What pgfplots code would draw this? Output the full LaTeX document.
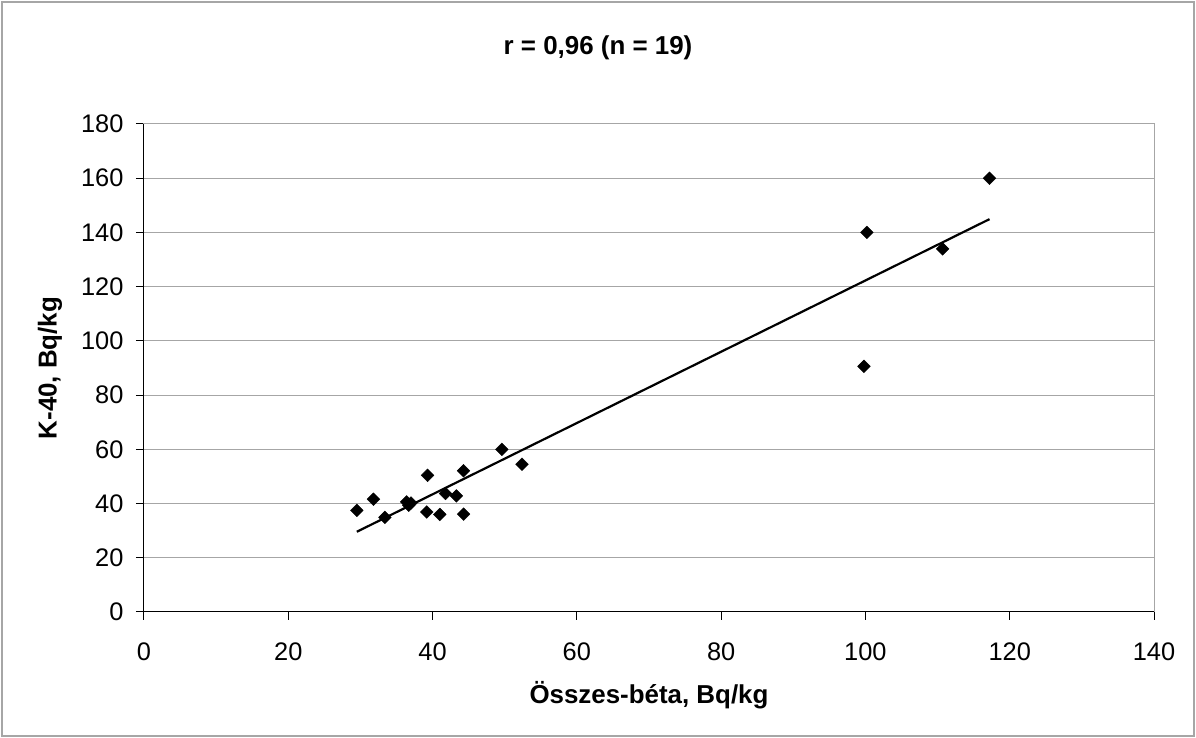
\documentclass[border=0pt]{standalone}
\usepackage{fontspec}
\setmainfont{Liberation Sans}
\usepackage{pgfplots}
\pgfplotsset{compat=1.18}

\begin{document}
\begin{tikzpicture}[x=1bp,y=1bp]
% outer chart frame (1196 x 738), plot area lower-left at (144,126)
\draw[gray!70,line width=1.2bp] (-142,-124) rectangle (1050,610);
\useasboundingbox (-144,-126) rectangle (1052,612);
\begin{axis}[
  scale only axis, width=1010bp, height=488bp,
  xmin=0, xmax=140, ymin=0, ymax=180,
  xtick={0,20,...,140}, ytick={0,20,...,180},
  axis line style={gray!70,line width=1bp},
  tick style={black,line width=1bp}, major tick length=8bp,
  tick align=outside, xtick pos=bottom, ytick pos=left,
  ymajorgrids, grid style={gray!70,line width=1bp},
  ticklabel style={font=\fontsize{25.5}{30}\selectfont},
  /pgf/number format/assume math mode=true,
  xticklabel style={yshift=-19bp}, yticklabel style={xshift=-9bp},
  clip=false,
]
\draw[black,line width=1bp] (rel axis cs:0,1) -- (rel axis cs:0,0) -- (rel axis cs:1,0);
\addplot[black,line width=2.2bp] coordinates {(29.5,29.6) (117.2,144.9)};
\addplot[only marks,mark=square*,mark size=4.5bp,mark options={rotate=45,black,fill=black}]
coordinates {
(29.5,37.5) (31.8,41.6) (33.4,34.9) (36.4,40.6) (36.7,39.4) (37.0,40.2)
(39.3,50.4) (39.2,36.9) (41.0,36.0) (41.8,43.7) (43.3,42.8) (44.3,52.1)
(44.3,36.1) (49.6,60.0) (52.4,54.5) (100.2,140.0) (110.7,133.9)
(117.2,160.0) (99.8,90.6)
};
\end{axis}
\node[font=\bfseries\fontsize{26}{30}\selectfont] at (454,564) {r = 0,96 (n = 19)};
\node[font=\bfseries\fontsize{26}{30}\selectfont] at (505,-83) {Összes-béta, Bq/kg};
\node[font=\bfseries\fontsize{26}{30}\selectfont,rotate=90] at (-94,244) {K-40, Bq/kg};
\end{tikzpicture}
\end{document}
